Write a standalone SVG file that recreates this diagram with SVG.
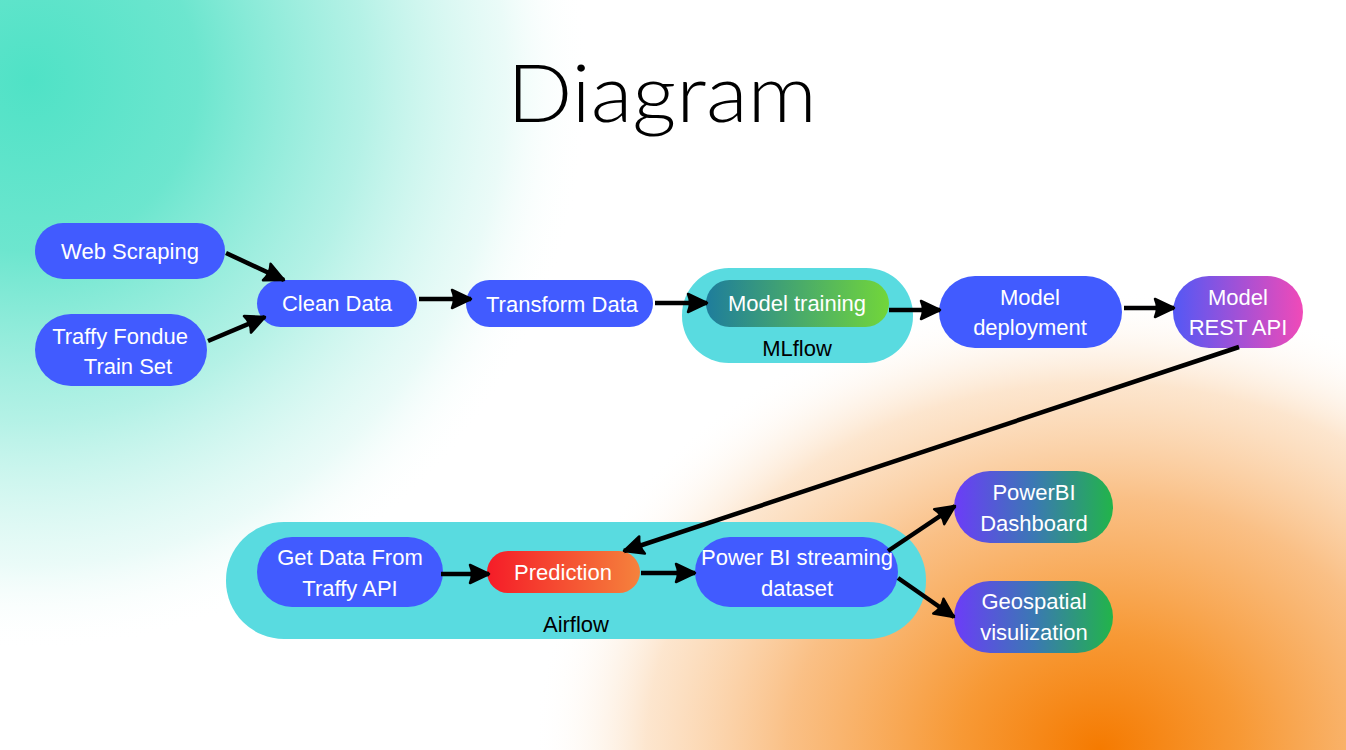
<svg xmlns="http://www.w3.org/2000/svg" width="1346" height="750" viewBox="0 0 1346 750">
<defs>
<radialGradient id="bgTeal" gradientUnits="userSpaceOnUse" cx="30" cy="80" r="560" gradientTransform="translate(30 80) scale(1 1.02) translate(-30 -80)">
<stop offset="0" stop-color="#4fe2c6" stop-opacity="1"/>
<stop offset="0.3" stop-color="#68e5cd" stop-opacity="0.97"/>
<stop offset="0.6" stop-color="#a2eee0" stop-opacity="0.8"/>
<stop offset="0.85" stop-color="#d6f7f1" stop-opacity="0.5"/>
<stop offset="1" stop-color="#ffffff" stop-opacity="0"/>
</radialGradient>
<radialGradient id="bgOrange" gradientUnits="userSpaceOnUse" cx="1100" cy="750" r="540" gradientTransform="translate(1100 750) scale(1.05 0.85) translate(-1100 -750)">
<stop offset="0" stop-color="#f57a00" stop-opacity="1"/>
<stop offset="0.25" stop-color="#f7962f" stop-opacity="0.97"/>
<stop offset="0.55" stop-color="#f9b775" stop-opacity="0.88"/>
<stop offset="0.8" stop-color="#fbd6b0" stop-opacity="0.62"/>
<stop offset="1" stop-color="#ffffff" stop-opacity="0"/>
</radialGradient>
<linearGradient id="gTrain" x1="0" y1="0" x2="1" y2="0">
<stop offset="0" stop-color="#1e7d9c"/>
<stop offset="1" stop-color="#72d63a"/>
</linearGradient>
<linearGradient id="gRest" x1="0" y1="0" x2="1" y2="0">
<stop offset="0" stop-color="#5358f5"/>
<stop offset="1" stop-color="#f04ab8"/>
</linearGradient>
<linearGradient id="gPred" x1="0" y1="0" x2="1" y2="0">
<stop offset="0" stop-color="#f51c28"/>
<stop offset="1" stop-color="#f5823c"/>
</linearGradient>
<linearGradient id="gOut" x1="0" y1="0" x2="1" y2="0">
<stop offset="0" stop-color="#6c3cf8"/>
<stop offset="0.5" stop-color="#3b78b4"/>
<stop offset="1" stop-color="#22b44a"/>
</linearGradient>
<marker id="arr" markerUnits="userSpaceOnUse" markerWidth="24" markerHeight="24" viewBox="0 0 24 24" refX="21" refY="12" orient="auto">
<path d="M2,3 L21,12 L2,21 Q6,12 2,3 Z" fill="#000" stroke="#000" stroke-width="2.5" stroke-linejoin="round"/>
</marker>
<style>
.node{fill:#415bff;}
.cont{fill:#59dbe0;}
.t{font-family:"Liberation Sans",Arial,sans-serif;font-size:22px;fill:#ffffff;text-anchor:middle;}
.lbl{font-family:"Liberation Sans",Arial,sans-serif;font-size:22px;fill:#000000;text-anchor:middle;}
.edge{stroke:#000;stroke-width:4.5;fill:none;marker-end:url(#arr);}
</style>
</defs>
<rect width="1346" height="750" fill="#ffffff"/>
<rect width="1346" height="750" fill="url(#bgTeal)"/>
<rect width="1346" height="750" fill="url(#bgOrange)"/>
<text x="662" y="122" font-family="Lato, 'Open Sans', sans-serif" font-weight="300" font-size="80" fill="#000" text-anchor="middle" textLength="310" lengthAdjust="spacingAndGlyphs">Diagram</text>

<g id="mlflow">
<rect class="cont" x="682" y="268" width="231" height="95" rx="47"/>
<text class="lbl" x="797" y="356">MLflow</text>
</g>
<g id="airflow">
<rect class="cont" x="226" y="522" width="700" height="117" rx="58"/>
<text class="lbl" x="576" y="632">Airflow</text>
</g>

<g id="web-scraping">
<rect class="node" x="35" y="223" width="190" height="56" rx="28"/>
<text class="t" x="130" y="259">Web Scraping</text>
</g>
<g id="traffy-train">
<rect class="node" x="35" y="314" width="172" height="72" rx="36"/>
<text class="t" x="120" y="344">Traffy Fondue</text>
<text class="t" x="128" y="374">Train Set</text>
</g>
<g id="clean-data">
<rect class="node" x="257" y="280" width="160" height="47" rx="23.5"/>
<text class="t" x="337" y="311">Clean Data</text>
</g>
<g id="transform-data">
<rect class="node" x="466" y="280" width="187" height="47" rx="23.5"/>
<text class="t" x="562" y="312">Transform Data</text>
</g>
<g id="model-training">
<rect x="706" y="280" width="183" height="47" rx="23.5" fill="url(#gTrain)"/>
<text class="t" x="797" y="311">Model training</text>
</g>
<g id="model-deployment">
<rect class="node" x="939" y="276" width="183" height="72" rx="36"/>
<text class="t" x="1030" y="305">Model</text>
<text class="t" x="1030" y="335">deployment</text>
</g>
<g id="model-rest-api">
<rect x="1173" y="276" width="130" height="72" rx="36" fill="url(#gRest)"/>
<text class="t" x="1238" y="305">Model</text>
<text class="t" x="1238" y="335">REST API</text>
</g>
<g id="get-data">
<rect class="node" x="257" y="537" width="186" height="70" rx="35"/>
<text class="t" x="350" y="565">Get Data From</text>
<text class="t" x="350" y="596">Traffy API</text>
</g>
<g id="prediction">
<rect x="487" y="551" width="153" height="42" rx="21" fill="url(#gPred)"/>
<text class="t" x="563" y="580">Prediction</text>
</g>
<g id="powerbi-streaming">
<rect class="node" x="695" y="537" width="203" height="70" rx="35"/>
<text class="t" x="797" y="565">Power BI streaming</text>
<text class="t" x="797" y="596">dataset</text>
</g>
<g id="powerbi-dashboard">
<rect x="954" y="471" width="159" height="72" rx="36" fill="url(#gOut)"/>
<text class="t" x="1034" y="500">PowerBI</text>
<text class="t" x="1034" y="531">Dashboard</text>
</g>
<g id="geospatial">
<rect x="954" y="581" width="159" height="72" rx="36" fill="url(#gOut)"/>
<text class="t" x="1034" y="609">Geospatial</text>
<text class="t" x="1034" y="640">visulization</text>
</g>

<g id="connectors">
<line class="edge" x1="226" y1="253" x2="284" y2="280"/>
<line class="edge" x1="208" y1="341" x2="265" y2="317"/>
<line class="edge" x1="419" y1="299" x2="471" y2="299"/>
<line class="edge" x1="655" y1="303" x2="707" y2="303"/>
<line class="edge" x1="889" y1="310" x2="940" y2="310"/>
<line class="edge" x1="1124" y1="308" x2="1174" y2="308"/>
<line class="edge" x1="1239" y1="347" x2="624" y2="551"/>
<line class="edge" x1="441" y1="574" x2="489" y2="574"/>
<line class="edge" x1="641" y1="573" x2="695" y2="573"/>
<line class="edge" x1="888" y1="551" x2="955" y2="506"/>
<line class="edge" x1="898" y1="578" x2="954" y2="617"/>
</g>
</svg>
